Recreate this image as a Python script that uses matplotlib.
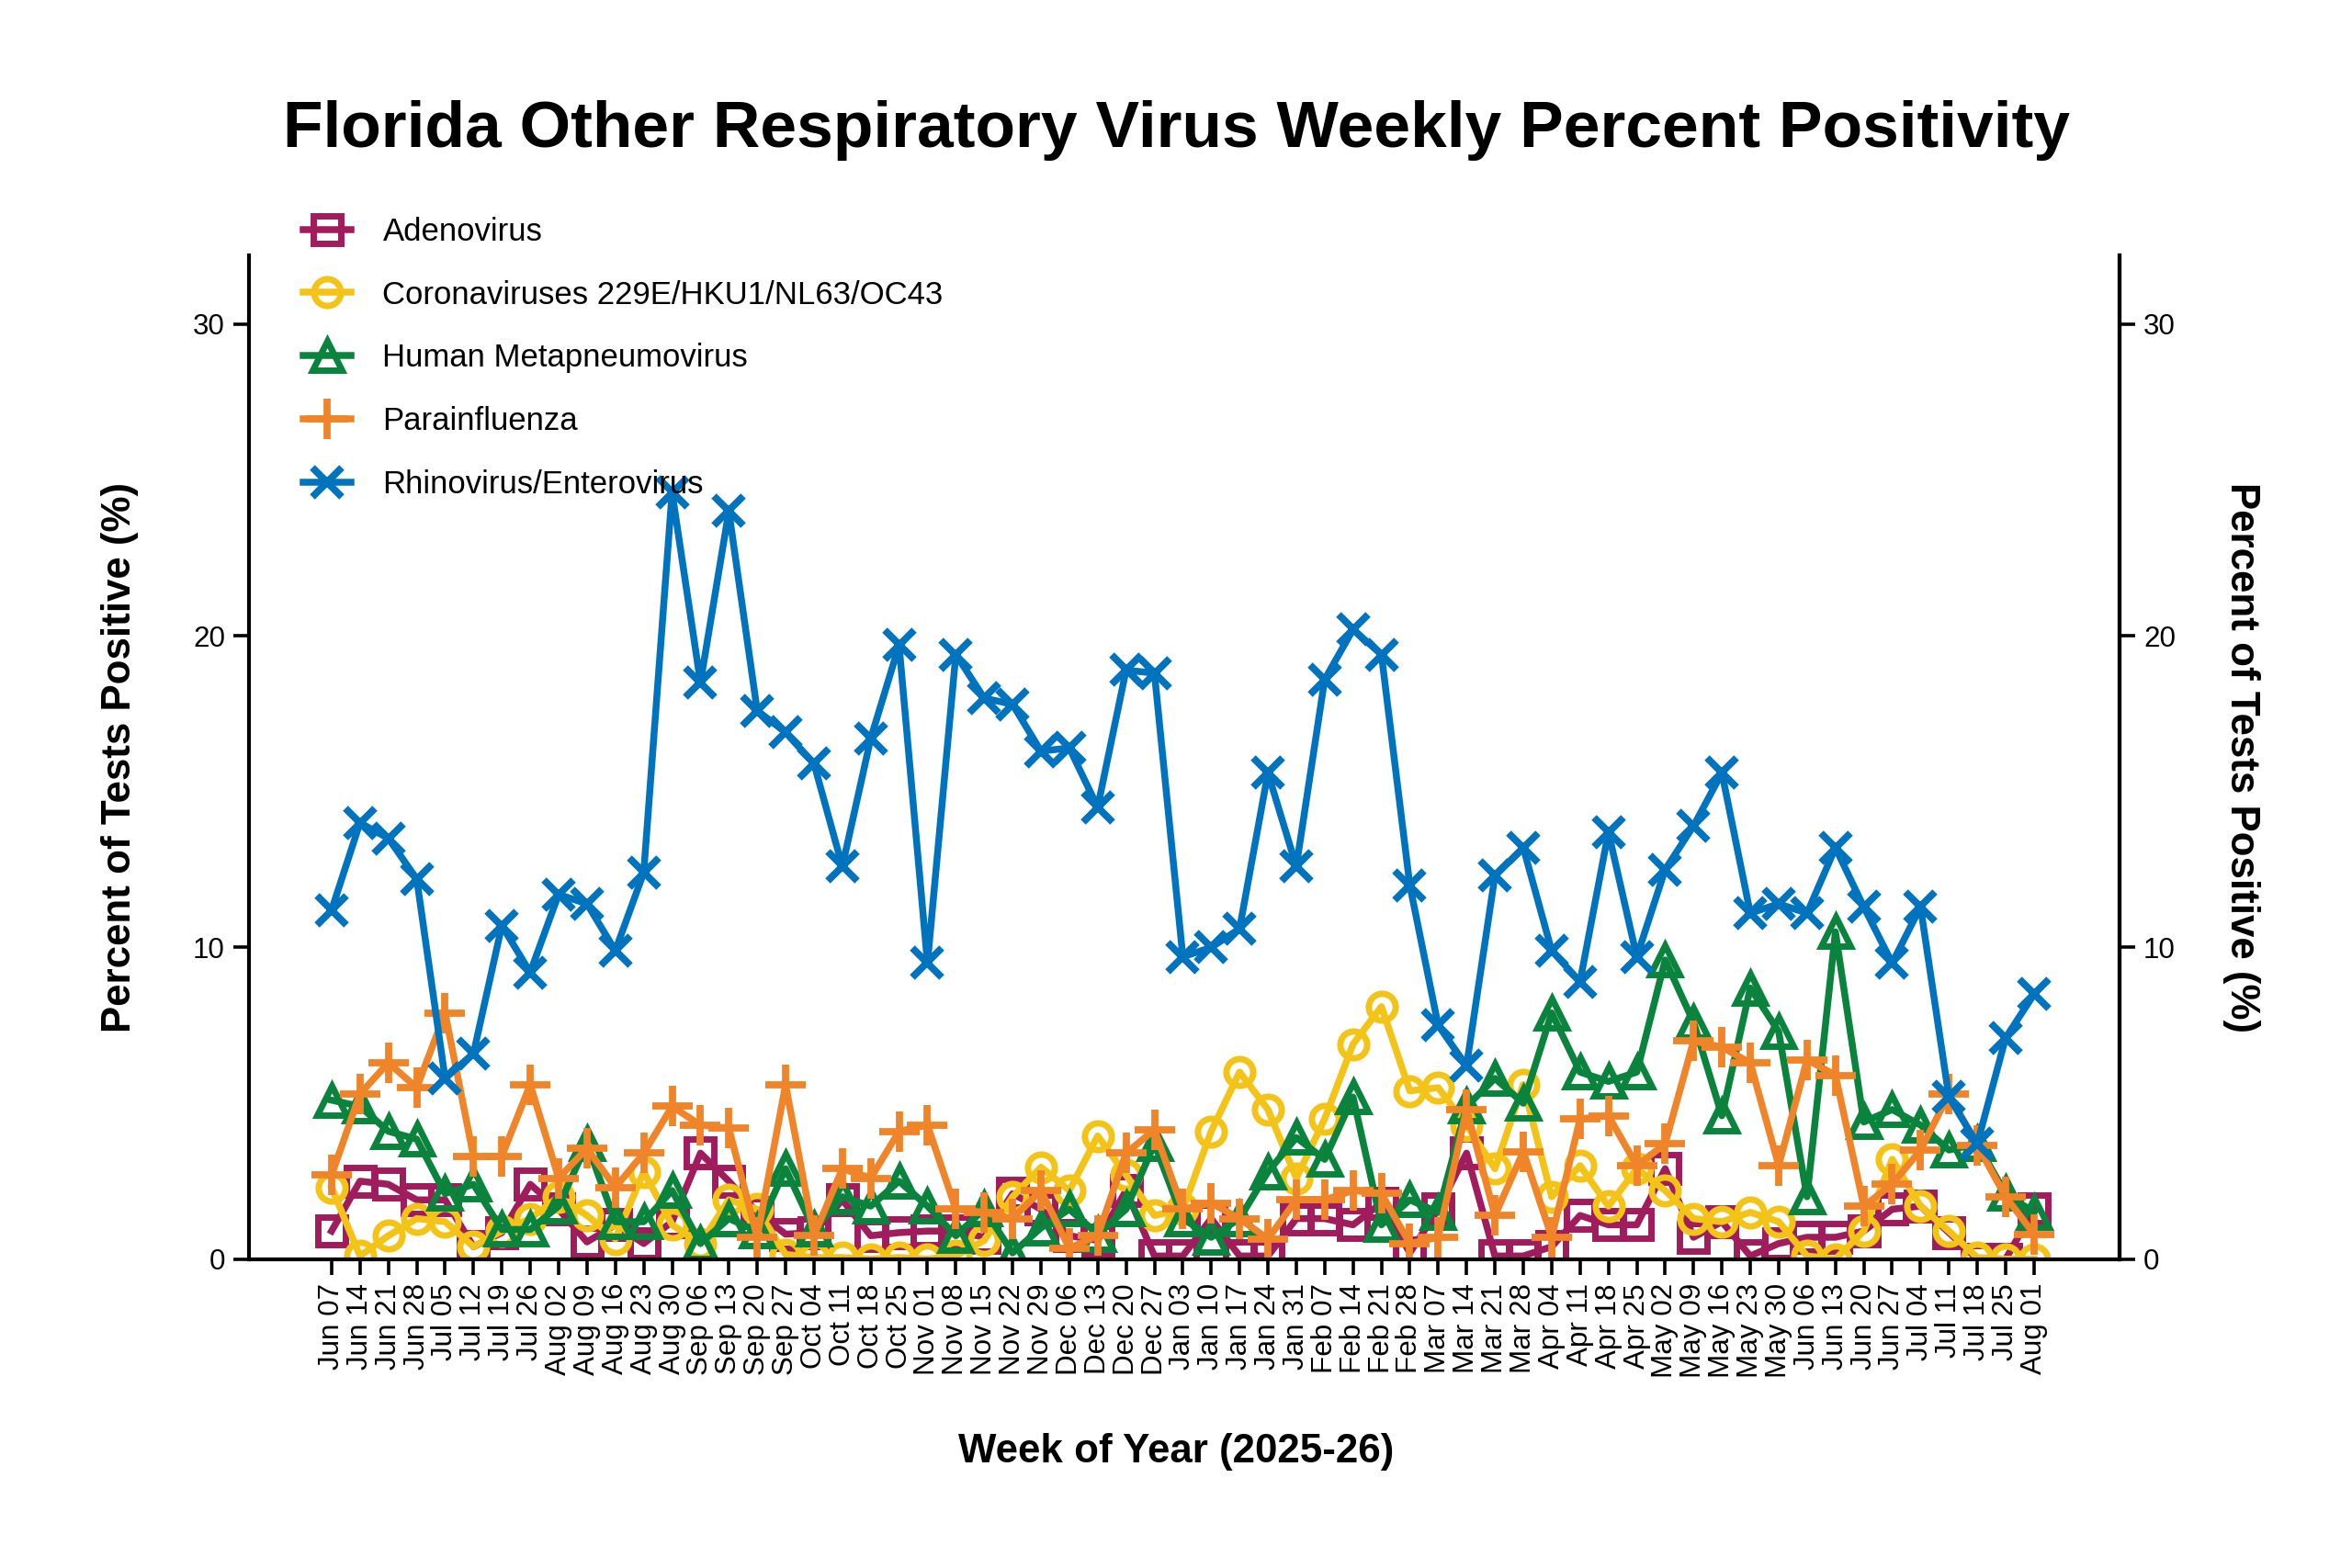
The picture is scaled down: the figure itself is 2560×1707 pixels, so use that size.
import numpy as np
import matplotlib
matplotlib.use("Agg")
import matplotlib.pyplot as plt

plt.rcParams['font.family'] = ['Liberation Sans', 'DejaVu Sans']

weeks = ["Jun 07", "Jun 14", "Jun 21", "Jun 28", "Jul 05", "Jul 12", "Jul 19", "Jul 26",
         "Aug 02", "Aug 09", "Aug 16", "Aug 23", "Aug 30", "Sep 06", "Sep 13", "Sep 20",
         "Sep 27", "Oct 04", "Oct 11", "Oct 18", "Oct 25", "Nov 01", "Nov 08", "Nov 15",
         "Nov 22", "Nov 29", "Dec 06", "Dec 13", "Dec 20", "Dec 27", "Jan 03", "Jan 10",
         "Jan 17", "Jan 24", "Jan 31", "Feb 07", "Feb 14", "Feb 21", "Feb 28", "Mar 07",
         "Mar 14", "Mar 21", "Mar 28", "Apr 04", "Apr 11", "Apr 18", "Apr 25", "May 02",
         "May 09", "May 16", "May 23", "May 30", "Jun 06", "Jun 13", "Jun 20", "Jun 27",
         "Jul 04", "Jul 11", "Jul 18", "Jul 25", "Aug 01"]

adeno = [0.9, 2.5, 2.4, 1.9, 1.9, 0.4, 0.85, 2.4, 1.6, 0.55, 1.1, 0.5, 1.2, 3.4, 2.5, 1.5,
         0.8, 0.85, 1.9, 0.75, 0.85, 0.9, 0.9, 0.7, 2.1, 1.6, 0.75, 0.6, 2.2, 0.1, 0.1, 1.3,
         0.1, 0.1, 1.3, 1.3, 1.1, 1.8, 0.2, 1.6, 3.4, 0.1, 0.1, 0.4, 1.4, 1.1, 1.1, 2.9,
         0.7, 1.2, 0.1, 0.5, 0.7, 0.7, 0.9, 1.6, 1.7, 0.85, 0.0, 0.0, 1.6]

corona = [2.3, 0.1, 0.75, 1.3, 1.2, 0.4, 0.9, 1.3, 2.0, 1.4, 0.65, 2.8, 1.1, 0.5, 1.9, 1.6,
          0.15, 0.05, 0.05, 0.0, 0.05, 0.0, 0.1, 0.6, 2.0, 2.95, 2.2, 3.95, 2.7, 1.4, 1.6, 4.1,
          6.0, 4.8, 2.6, 4.5, 6.9, 8.1, 5.4, 5.5, 4.3, 2.9, 5.6, 2.0, 3.0, 1.7, 2.9, 2.2,
          1.3, 1.2, 1.5, 1.2, 0.1, 0.0, 0.9, 3.2, 1.7, 0.9, 0.05, 0.0, 0.0]

hmpv = [5.1, 4.9, 4.1, 3.85, 2.1, 2.4, 0.95, 0.95, 1.7, 3.7, 1.2, 1.2, 2.2, 0.5, 1.3, 0.9,
        2.9, 0.95, 2.0, 1.7, 2.5, 1.7, 0.75, 1.6, 0.2, 1.0, 1.6, 0.8, 1.6, 3.7, 1.3, 0.7,
        1.3, 2.8, 3.9, 3.2, 5.2, 1.1, 1.9, 1.5, 4.9, 5.8, 5.0, 7.9, 6.0, 5.7, 6.0, 9.6,
        7.6, 4.6, 8.7, 7.3, 2.0, 10.5, 4.4, 4.8, 4.3, 3.5, 3.7, 2.1, 1.5]

para = [2.7, 5.3, 6.3, 5.5, 7.9, 3.3, 3.3, 5.6, 2.6, 3.55, 2.3, 3.4, 4.9, 4.3, 4.2, 0.7,
        5.6, 0.75, 2.9, 2.6, 4.1, 4.3, 1.6, 1.5, 1.3, 2.2, 0.35, 0.75, 3.4, 4.15, 1.6, 1.8,
        1.3, 0.65, 1.9, 1.9, 2.2, 2.1, 0.5, 0.7, 4.8, 1.4, 3.45, 0.7, 4.5, 4.6, 3.0, 3.7,
        7.0, 6.8, 6.3, 3.0, 6.4, 5.9, 1.7, 2.4, 3.5, 5.3, 3.65, 2.0, 0.8]

rhino = [11.2, 14.0, 13.5, 12.2, 5.8, 6.6, 10.7, 9.2, 11.7, 11.4, 9.9, 12.4, 24.6, 18.5, 24.0, 17.6,
         16.9, 15.9, 12.6, 16.7, 19.7, 9.5, 19.4, 18.0, 17.8, 16.3, 16.4, 14.5, 18.9, 18.8, 9.7, 10.0,
         10.6, 15.6, 12.6, 18.6, 20.2, 19.4, 12.0, 7.5, 6.2, 12.3, 13.2, 9.9, 8.9, 13.7, 9.7, 12.5,
         13.9, 15.6, 11.1, 11.4, 11.1, 13.2, 11.3, 9.5, 11.3, 5.2, 3.7, 7.1, 8.5]

x = np.arange(len(weeks))

fig = plt.figure(figsize=(12.8, 8.535), dpi=200)
ax = fig.add_axes([0.106, 0.197, 0.795, 0.64])

lw = 2.7
ms = 10.5
mew = 2.5
ax.plot(x, adeno, color='#A01C5C', lw=lw, marker='s', ms=ms, mew=mew, mfc='none', label='Adenovirus')
ax.plot(x, corona, color='#F3C317', lw=lw, marker='o', ms=ms, mew=mew, mfc='none',
        label='Coronaviruses 229E/HKU1/NL63/OC43')
ax.plot(x, hmpv, color='#0A833D', lw=lw, marker='^', ms=ms + 1, mew=mew, mfc='none',
        label='Human Metapneumovirus')
ax.plot(x, para, color='#EF8428', lw=lw, marker='+', ms=ms + 5, mew=mew + 0.3, label='Parainfluenza')
ax.plot(x, rhino, color='#0073BF', lw=lw, marker='x', ms=ms + 1, mew=mew + 0.3,
        label='Rhinovirus/Enterovirus')

ax.set_xlim(-2.9, 63)
ax.set_ylim(0, 32.2)
ax.set_yticks([0, 10, 20, 30])
ax.set_xticks(x)
ax.set_xticklabels(weeks, rotation=90, fontsize=11.3)
ax.tick_params(axis='both', direction='out', length=6, width=1.3, labelsize=11.3)
ax.spines['top'].set_visible(False)
for s in ['left', 'bottom', 'right']:
    ax.spines[s].set_linewidth(1.5)

ax2 = ax.twinx()
ax2.set_ylim(0, 32.2)
ax2.set_yticks([0, 10, 20, 30])
ax2.tick_params(axis='y', direction='out', length=6, width=1.3, labelsize=11.3)
ax2.spines['top'].set_visible(False)
ax2.spines['right'].set_linewidth(1.5)

fig.text(0.5, 0.917, 'Florida Other Respiratory Virus Weekly Percent Positivity',
         ha='center', va='center', fontsize=25.7, fontweight='bold')
fig.text(0.5, 0.074, 'Week of Year (2025-26)', ha='center', va='center',
         fontsize=15.8, fontweight='bold')
fig.text(0.051, 0.517, 'Percent of Tests Positive (%)', ha='center', va='center',
         rotation=90, fontsize=15.8, fontweight='bold')
fig.text(0.953, 0.517, 'Percent of Tests Positive (%)', ha='center', va='center',
         rotation=270, fontsize=15.8, fontweight='bold')

fig.legend(loc='upper left', bbox_to_anchor=(0.122, 0.872), frameon=False,
           fontsize=12.5, labelspacing=1.03, handlelength=1.5, handletextpad=1.0,
           borderpad=0)

fig.savefig('out.png', dpi=200)
